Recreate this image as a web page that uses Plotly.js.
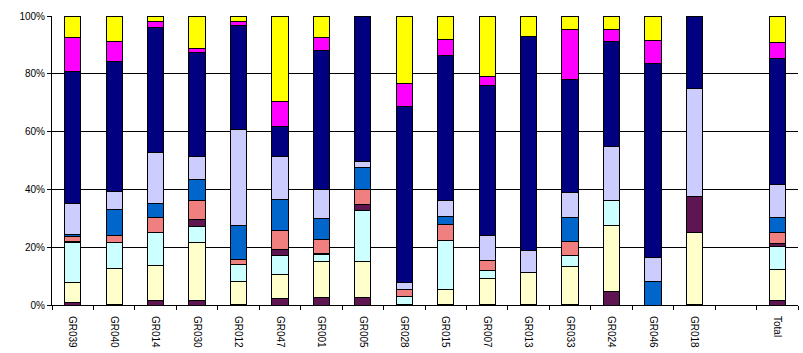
<!DOCTYPE html>
<html>
<head>
<meta charset="utf-8">
<script src="https://cdn.plot.ly/plotly-3.0.1.min.js"></script>
<style>html,body{margin:0;padding:0;background:#fff;}#chart{width:803px;height:353px;}</style>
</head>
<body>
<div id="chart"></div>
<script>
const categories = ["GR039","GR040","GR014","GR030","GR012","GR047","GR001","GR005","GR028","GR015","GR007","GR013","GR033","GR024","GR046","GR018"," ","Total"];

// series values (percent share), bottom to top
const s1  = [1.0, 0.3, 1.4, 1.4, 0.3, 2.3, 2.7, 2.7, 0.3, 0.3, 0.3, 0.3, 0.3, 4.5, 0.0, 0.3, null, 1.4];
const s2  = [6.6, 12.4, 12.4, 20.2, 7.8, 8.4, 12.3, 12.3, 0.0, 5.2, 8.7, 10.9, 13.0, 22.9, 0.0, 24.7, null, 10.9];
const s3  = [13.9, 9.0, 11.2, 5.7, 6.0, 6.3, 2.6, 17.6, 2.6, 16.8, 3.1, 0.0, 4.0, 8.8, 0.0, 0.0, null, 8.1];
const s4  = [0.5, 0.0, 0.0, 2.3, 0.0, 2.3, 0.3, 2.3, 0.0, 0.0, 0.0, 0.0, 0.0, 0.0, 0.0, 12.5, null, 0.9];
const s5  = [1.4, 2.5, 5.2, 6.7, 1.7, 6.4, 4.6, 5.2, 2.5, 5.6, 3.2, 0.0, 4.6, 0.0, 0.0, 0.0, null, 3.7];
const s6  = [0.9, 8.9, 5.0, 7.0, 11.7, 10.9, 7.5, 7.5, 0.0, 2.7, 0.0, 0.0, 8.4, 0.0, 8.3, 0.0, null, 5.2];
const s7  = [10.5, 6.3, 17.6, 8.0, 33.4, 14.7, 10.1, 2.2, 2.3, 5.4, 8.9, 7.6, 8.7, 18.5, 8.2, 37.5, null, 11.6];
const s8  = [45.6, 44.8, 43.3, 36.1, 35.8, 10.4, 47.8, 50.2, 60.9, 50.5, 51.7, 74.0, 39.2, 36.3, 66.9, 25.0, null, 43.6];
const s9  = [11.5, 6.9, 1.9, 1.2, 1.3, 8.7, 4.7, 0.0, 8.1, 5.4, 3.1, 0.0, 17.3, 4.4, 8.1, 0.0, null, 5.4];
const s10 = [7.5, 8.9, 2.0, 11.4, 2.0, 29.6, 7.4, 0.0, 23.3, 8.1, 21.0, 7.2, 4.5, 4.5, 8.5, 0.0, null, 9.2];

const yTickVals = [0, 20, 40, 60, 80, 100];
const yTickText = ["0%", "20%", "40%", "60%", "80%", "100%"];
const gridVals = [20, 40, 60, 80];

const seriesList = [s1, s2, s3, s4, s5, s6, s7, s8, s9, s10];
const colors = ["#5E1552", "#FFFFCC", "#CCFFFF", "#5E1552", "#F08080", "#0066CC", "#CCCCFF", "#000080", "#FF00FF", "#FFFF00"];

const traces = seriesList.map((vals, i) => ({
  type: "bar",
  x: categories,
  y: vals,
  name: "S" + (i + 1),
  marker: {color: colors[i], line: {color: "#000000", width: 1}},
  hoverinfo: "skip"
}));

const layout = {
  width: 803,
  height: 353,
  margin: {l: 52, r: 5, t: 16, b: 48, pad: 0},
  paper_bgcolor: "#ffffff",
  plot_bgcolor: "#ffffff",
  barmode: "stack",
  barnorm: "percent",
  bargap: 0.61,
  showlegend: false,
  font: {family: "Liberation Sans, Arial, sans-serif", size: 10, color: "#000000"},
  xaxis: {
    type: "category",
    categoryorder: "array",
    categoryarray: categories,
    range: [-0.5, categories.length - 0.5],
    tickangle: 90,
    ticks: "outside",
    tickson: "boundaries",
    ticklen: 4,
    tickcolor: "#000",
    ticklabelstandoff: 8,
    showline: true,
    linecolor: "#000",
    linewidth: 1,
    showgrid: false,
    tickfont: {size: 10, family: "Liberation Sans, Arial, sans-serif", color: "#000"}
  },
  yaxis: {
    range: [0, 100],
    tickmode: "array",
    tickvals: yTickVals,
    ticktext: yTickText,
    ticks: "outside",
    ticklen: 4,
    tickcolor: "#000",
    showline: true,
    linecolor: "#000",
    linewidth: 1,
    showgrid: false,
    zeroline: false,
    tickfont: {size: 10, family: "Liberation Sans, Arial, sans-serif", color: "#000"}
  },
  yaxis2: {
    overlaying: "y",
    range: [0, 100],
    tickmode: "array",
    tickvals: gridVals,
    showticklabels: false,
    showgrid: true,
    gridcolor: "#000000",
    gridwidth: 1,
    zeroline: false,
    showline: false,
    ticks: ""
  }
};

// invisible trace that activates the overlay axis carrying the gridlines
traces.unshift({type: "scatter", mode: "none", x: [categories[0]], y: [null], yaxis: "y2", hoverinfo: "skip", showlegend: false});

Plotly.newPlot("chart", traces, layout, {displayModeBar: false, staticPlot: true});
</script>
</body>
</html>
